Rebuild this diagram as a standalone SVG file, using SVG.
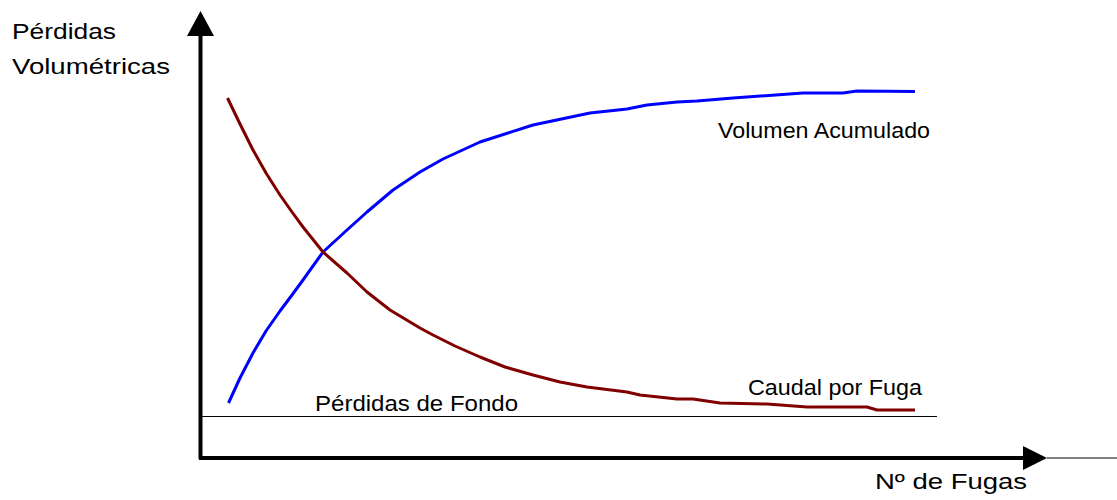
<svg xmlns="http://www.w3.org/2000/svg" width="1117" height="500" viewBox="0 0 1117 500">
<style>
text{font-family:"Comic Sans MS","Liberation Sans","DejaVu Sans",sans-serif;font-size:22px;fill:#000}
.curve{fill:none;stroke-width:3;stroke-linejoin:round;stroke-linecap:butt}
.axis{stroke:#000;stroke-width:4;fill:none}
.thin{stroke:#000;stroke-width:1;fill:none}
</style>
<rect width="1117" height="500" fill="#fff"/>
<g id="axes">
<line class="axis" x1="200.5" y1="459" x2="200.5" y2="30"/>
<polygon points="200.5,11 187,36 214,36" fill="#000"/>
<line class="axis" x1="199" y1="458" x2="1027" y2="458"/>
<polygon points="1047,458 1023,446 1023,470" fill="#000"/>
<line class="thin" x1="1047" y1="458" x2="1117" y2="458"/>
</g>
<g id="fondo">
<line class="thin" x1="200" y1="416.5" x2="937" y2="416.5"/>
<text x="315" y="411" textLength="203" lengthAdjust="spacingAndGlyphs">Pérdidas de Fondo</text>
</g>
<g id="connectors">
<polyline id="volumen-curve" class="curve" stroke="#0000ff" points="228.5,403 240,378 253,353 266,331 280,311 292,295 303,280 323,252 347,230 367,212 393,190 420,172 443,159 480,142 533,125 590,113 627,109 647,105 677,102 697,101 733,98 803,93 843,93 857,91 915,91.5"/>
<polyline id="caudal-curve" class="curve" stroke="#800000" points="227.5,98 240,124 253,150 266,173 280,195 292,212 303,227 323,252 347,273 367,292 390,310 420,328 433,335 455,346 480,357 505,367 533,375 560,382 587,387 627,392 640,395 677,399 693,399 720,403 767,404 807,407 867,407 877,410 915,410"/>
</g>
<g id="y-label">
<text x="12" y="39" textLength="104" lengthAdjust="spacingAndGlyphs">Pérdidas</text>
<text x="12" y="74" textLength="158" lengthAdjust="spacingAndGlyphs">Volumétricas</text>
</g>
<g id="volumen-label">
<text x="718" y="138" textLength="212" lengthAdjust="spacingAndGlyphs">Volumen Acumulado</text>
</g>
<g id="caudal-label">
<text x="748" y="395" textLength="174" lengthAdjust="spacingAndGlyphs">Caudal por Fuga</text>
</g>
<g id="x-label">
<text x="875" y="489" textLength="152" lengthAdjust="spacingAndGlyphs">Nº de Fugas</text>
</g>
</svg>
